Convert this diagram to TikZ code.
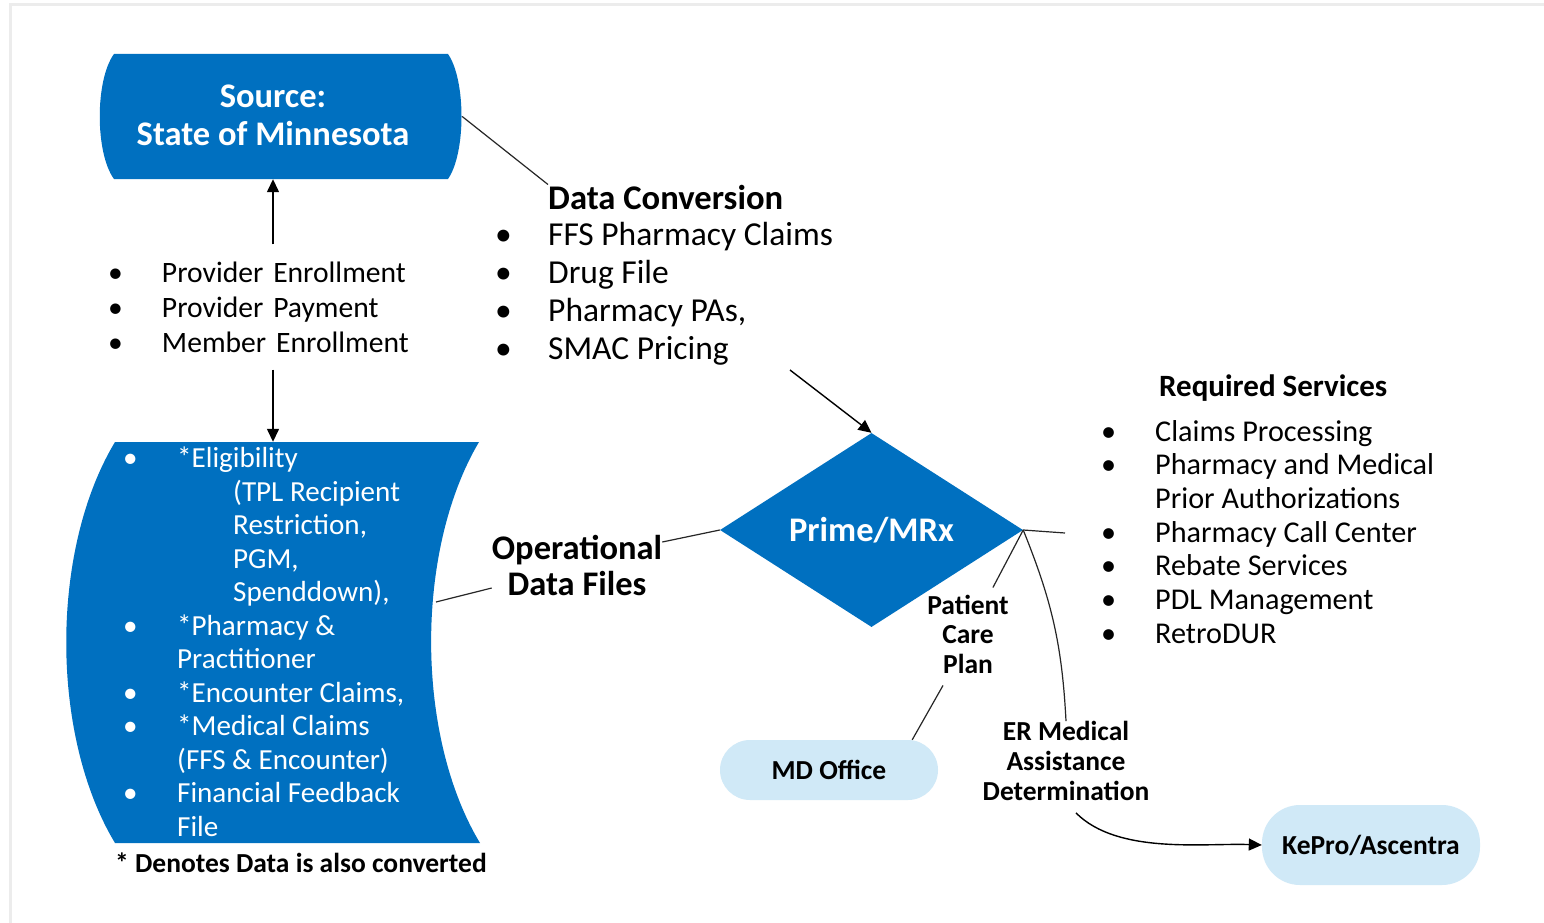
\documentclass[tikz,border=0pt]{standalone}
\usepackage{fontspec}
\setmainfont{Carlito}
\usepackage{tikz}
\usetikzlibrary{arrows, arrows.meta}
\usetikzlibrary{shapes.geometric}
\definecolor{mnblue}{RGB}{0,112,192}
\definecolor{pillblue}{RGB}{208,233,247}
\tikzstyle{arrow} = [line width=1.4pt,-{Triangle[length=13pt,width=12pt]}]
\tikzstyle{link} = [line width=1.2pt, black!85]
\tikzstyle{pill} = [rectangle, rounded corners=30pt, fill=pillblue, minimum width=218pt, minimum height=60pt, font=\bfseries\fontsize{27.5}{30}\selectfont]
\tikzstyle{tag} = [align=center, inner sep=0pt, font=\bfseries\fontsize{27.5}{29.5}\selectfont]
\newcommand{\itm}[1]{\makebox[#1][l]{\textbullet}}

\begin{document}
\begin{tikzpicture}[x=1pt,y=1pt]
\useasboundingbox (0,0) rectangle (1544,-923);
\fill [white] (0,0) rectangle (1544,-923);
\draw [gray!15, line width=3pt] (10,-923) -- (10,-5) -- (1544,-5);

% source box
\fill [mnblue] (114,-54) -- (448,-54) .. controls (466,-80) and (466,-153) .. (448,-179) -- (114,-179) .. controls (95,-153) and (95,-80) .. (114,-54);
\node [minimum width=363pt, minimum height=125pt, inner sep=0pt] (src) at (280.5,-116.5) {};
\node [align=center, text=white, inner sep=0pt, font=\bfseries\fontsize{34.5}{38}\selectfont] (srctext) at (273,-115) {Source:\\State of Minnesota};

\node [text width=330pt, align=left, inner xsep=0pt, inner ysep=17pt, font=\fontsize{29.6}{35}\selectfont] (plist) at (273,-307)
  {\itm{54pt}Provider Enrollment\\ \itm{54pt}Provider Payment\\ \itm{54pt}Member Enrollment};

% operational data files
\fill [mnblue] (115,-442) -- (479,-442) .. controls (415,-550) and (415,-735) .. (480,-843) -- (115,-843) .. controls (50,-735) and (50,-550) .. (115,-442);
\node [minimum width=414pt, minimum height=401pt, inner sep=0pt] (odf) at (273,-642.5) {};
\node [anchor=north west, align=left, text=white, inner sep=0pt, font=\fontsize{29.1}{33.5}\selectfont] (odftext) at (123,-447)
  {\itm{54pt}*Eligibility\\ \hspace*{110pt}(TPL Recipient\\ \hspace*{110pt}Restriction,\\ \hspace*{110pt}PGM,\\ \hspace*{110pt}Spenddown),\\
   \itm{54pt}*Pharmacy \&\\ \hspace*{54pt}Practitioner\\ \itm{54pt}*Encounter Claims,\\ \itm{54pt}*Medical Claims\\
   \hspace*{54pt}(FFS \& Encounter)\\ \itm{54pt}Financial Feedback\\ \hspace*{54pt}File};
\node [anchor=west, inner sep=0pt, font=\bfseries\fontsize{27.5}{30}\selectfont] (note) at (115,-863) {* Denotes Data is also converted};
\node [align=center, inner sep=0pt, font=\bfseries\fontsize{34.5}{36}\selectfont] (odflabel) at (577,-565) {Operational\\Data Files};

% data conversion
\node [anchor=base west, inner sep=0pt, font=\bfseries\fontsize{34.6}{38}\selectfont] (dc) at (548,-209) {Data Conversion};
\node [anchor=north west, align=left, inner sep=0pt, font=\fontsize{33.5}{38}\selectfont] (dclist) at (495,-222)
  {\itm{53pt}FFS Pharmacy Claims\\ \itm{53pt}Drug File\\ \itm{53pt}Pharmacy PAs,\\ \itm{53pt}SMAC Pricing};
\coordinate (dcend) at (790,-370);

% prime
\node [diamond, fill=mnblue, text=white, inner sep=0pt, minimum width=303pt, minimum height=194pt, font=\bfseries\fontsize{34.5}{38}\selectfont] (prime) at (871.5,-530) {Prime/MRx};

% required services
\node [anchor=base west, inner sep=0pt, font=\bfseries\fontsize{31}{34}\selectfont] (rs) at (1159,-396) {Required Services};
\node [anchor=north west, align=left, inner sep=0pt, font=\fontsize{30.2}{33.7}\selectfont] (rslist) at (1101,-420)
  {\itm{54pt}Claims Processing\\ \itm{54pt}Pharmacy and Medical\\ \hspace*{54pt}Prior Authorizations\\ \itm{54pt}Pharmacy Call Center\\
   \itm{54pt}Rebate Services\\ \itm{54pt}PDL Management\\ \itm{54pt}RetroDUR};
\coordinate (rsend) at (1065,-533);

\node [tag] (pcp) at (968,-634) {Patient\\Care\\Plan};
\node [tag, font=\bfseries\fontsize{27.5}{30}\selectfont] (er) at (1066,-761) {ER Medical\\Assistance\\Determination};
\node [pill] (md) at (829,-770) {MD Office};
\node [pill, minimum height=80pt, rounded corners=38pt] (kp) at (1371,-845) {KePro/Ascentra};

\draw [arrow] (plist.north) -- (plist.north |- src.south);
\draw [arrow] (plist.south) -- (odf.north);
\draw [link] (src.east) -- (dc.north west);
\draw [arrow] (dcend) -- (prime.north);
\draw [link] (436,-602) coordinate (odfedge) (odfedge) -- ([yshift=-23pt]odflabel.west);
\draw [link] ([yshift=23pt]odflabel.east) -- (prime.west);
\draw [link] (prime.east) -- (rsend);
\draw [link] (prime.east) -- ([xshift=-16pt,yshift=7pt]pcp.north east);
\draw [link] ([xshift=-25pt,yshift=-12pt]pcp.south) -- ([xshift=-26pt]md.north east);
\draw [link] (prime.east) to[out=-68, in=93] (er.north);
\draw [arrow] ([xshift=10pt,yshift=-12pt]er.south) to[out=-45, in=178, looseness=0.8] (kp.west);

\end{tikzpicture}
\end{document}
